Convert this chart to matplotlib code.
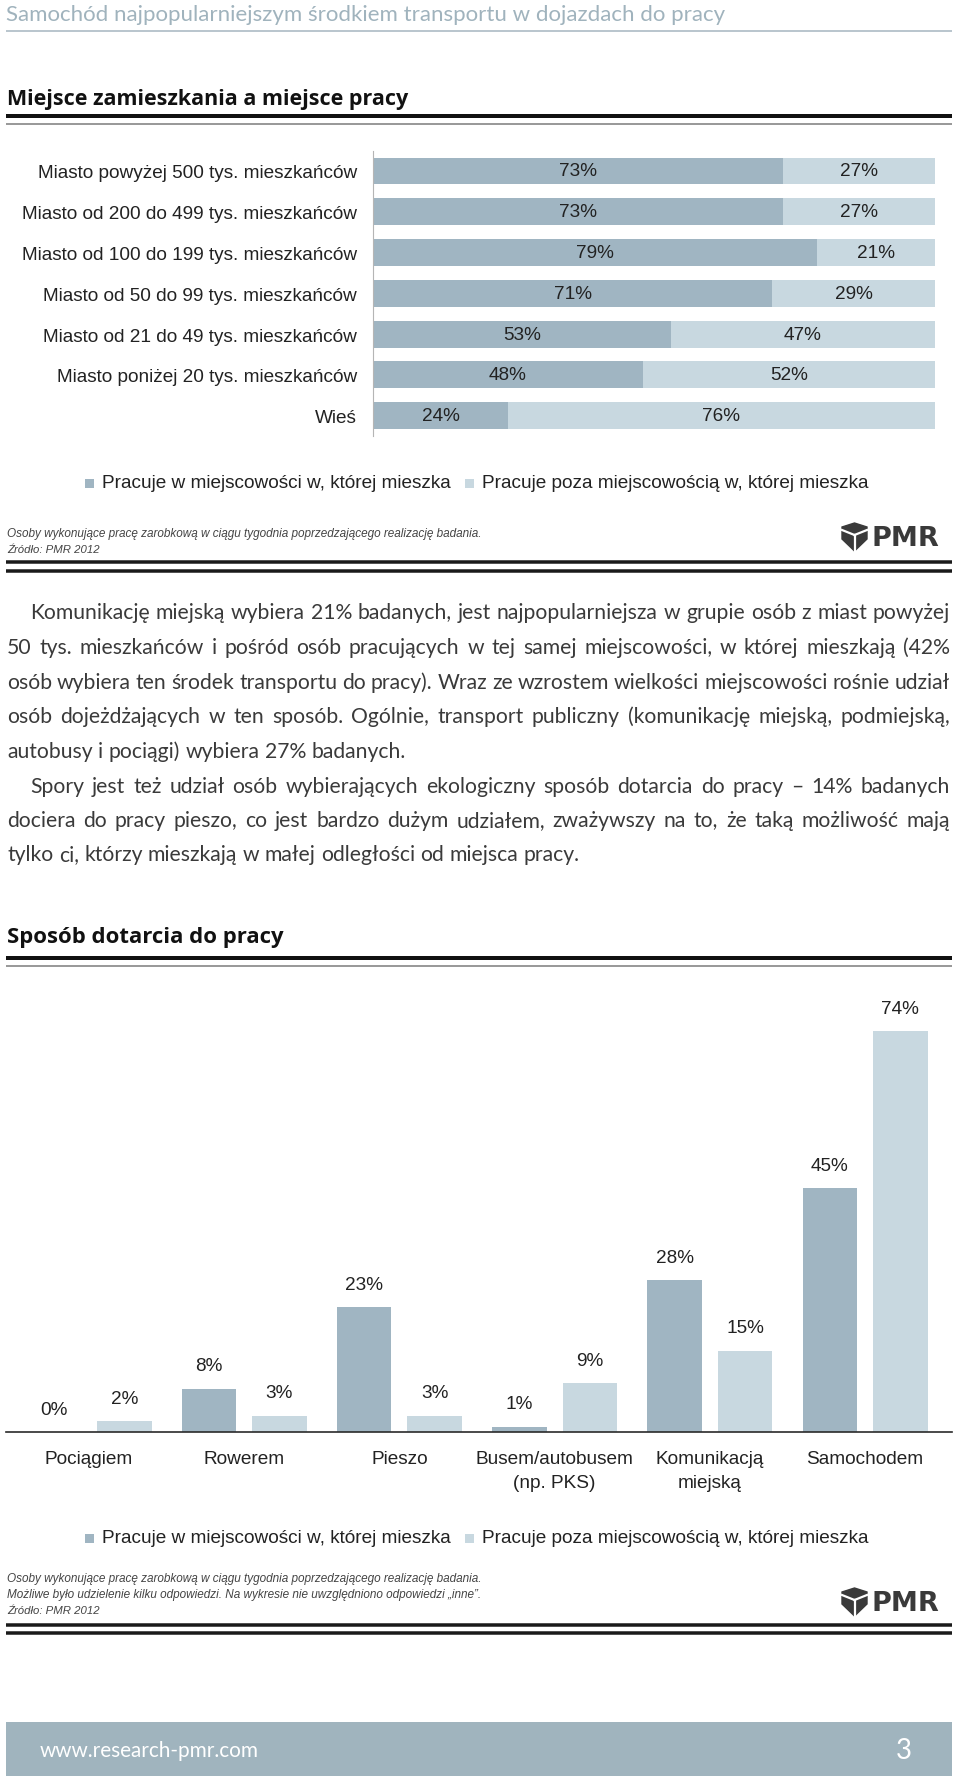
import numpy as np
import matplotlib
matplotlib.use("Agg")
import matplotlib.pyplot as plt
from matplotlib import font_manager
from matplotlib.patches import Rectangle, Polygon

# Dane - wykres 1 (miejsce zamieszkania a miejsce pracy)
miejscowosci = [
    "Miasto powyżej 500 tys. mieszkańców",
    "Miasto od 200 do 499 tys. mieszkańców",
    "Miasto od 100 do 199 tys. mieszkańców",
    "Miasto od 50 do 99 tys. mieszkańców",
    "Miasto od 21 do 49 tys. mieszkańców",
    "Miasto poniżej 20 tys. mieszkańców",
    "Wieś",
]
pracuje_w = [73, 73, 79, 71, 53, 48, 24]
pracuje_poza = [27, 27, 21, 29, 47, 52, 76]

# Dane - wykres 2 (sposób dotarcia do pracy)
sposoby = ["Pociągiem", "Rowerem", "Pieszo", "Busem/autobusem\n(np. PKS)",
           "Komunikacją\nmiejską", "Samochodem"]
sposob_w = [0, 8, 23, 1, 28, 45]
sposob_poza = [2, 3, 3, 9, 15, 74]

serie = ["Pracuje w miejscowości w, której mieszka",
         "Pracuje poza miejscowością w, której mieszka"]

akapity = [
    ["Komunikację miejską wybiera 21% badanych, jest najpopularniejsza w grupie osób z miast powyżej",
     "50 tys. mieszkańców i pośród osób pracujących w tej samej miejscowości, w której mieszkają (42%",
     "osób wybiera ten środek transportu do pracy). Wraz ze wzrostem wielkości miejscowości rośnie udział",
     "osób dojeżdżających w ten sposób. Ogólnie, transport publiczny (komunikację miejską, podmiejską,",
     "autobusy i pociągi) wybiera 27% badanych."],
    ["Spory jest też udział osób wybierających ekologiczny sposób dotarcia do pracy – 14% badanych",
     "dociera do pracy pieszo, co jest bardzo dużym udziałem, zważywszy na to, że taką możliwość mają",
     "tylko ci, którzy mieszkają w małej odległości od miejsca pracy."],
]

C_DARK = "#a0b5c2"
C_LIGHT = "#c8d8e0"
C_TXT = "#222222"
FS = 13.7


def pick(*names):
    for n in names:
        try:
            font_manager.findfont(font_manager.FontProperties(family=n),
                                  fallback_to_default=False)
            return n
        except ValueError:
            pass
    return "DejaVu Sans"


ARIAL = pick("Liberation Sans", "Arial")
NARROW = pick("Liberation Sans Narrow", "Liberation Sans")
BODY = pick("Lato", "Open Sans")
HEAD = pick("Open Sans", "Noto Sans")

W, H = 960, 1781
fig = plt.figure(figsize=(W / 100, H / 100), dpi=100)
bg = fig.add_axes([0, 0, 1, 1])
bg.set_xlim(0, W)
bg.set_ylim(H, 0)
bg.axis("off")
renderer = fig.canvas.get_renderer()


def px_axes(x0, y0, x1, y1):
    return fig.add_axes([x0 / W, 1 - y1 / H, (x1 - x0) / W, (y1 - y0) / H])


def hline(y, lw_px, color, x0=6, x1=952):
    bg.plot([x0, x1], [y, y], color=color, lw=lw_px * 0.72, solid_capstyle="butt")


def fit_text(x, y, s, width, size=12, **kw):
    # dopasowanie rozmiaru czcionki do szerokości z oryginału
    t = bg.text(x, y, s, fontsize=size, va="center", **kw)
    w = t.get_window_extent(renderer).width
    t.set_fontsize(size * width / w)
    return t


def justify(line, y, x0, x1, last, **kw):
    words = line.split(" ")
    texts = [bg.text(0, y, w, va="center", ha="left", **kw) for w in words]
    widths = [t.get_window_extent(renderer).width for t in texts]
    if last or len(words) < 2:
        a = bg.text(0, 0, "a a", **kw)
        b = bg.text(0, 0, "aa", **kw)
        gap = a.get_window_extent(renderer).width - b.get_window_extent(renderer).width
        a.remove()
        b.remove()
    else:
        gap = (x1 - x0 - sum(widths)) / (len(words) - 1)
    x = x0
    for t, w in zip(texts, widths):
        t.set_x(x)
        x += w + gap


def logo(x, yc):
    pts = [(x, yc - 10), (x + 12.5, yc - 14), (x + 25, yc - 10),
           (x + 25, yc + 2), (x + 12.5, yc + 14), (x, yc + 2)]
    bg.add_patch(Polygon(pts, closed=True, color="#3a3a3a"))
    cx, cy = x + 12.5, yc - 2
    for ex, ey in [(x, yc - 7), (x + 25, yc - 7), (x + 12.5, yc + 14)]:
        bg.plot([cx, ex], [cy, ey], color="white", lw=1.6)
    bg.text(x + 30, yc + 1, "PMR", fontsize=19.5, fontweight="bold",
            family="DejaVu Sans", color="#3a3a3a", va="center", ha="left")


def legenda(yc):
    for sx, tx, col, s in [(85, 102, C_DARK, serie[0]), (465, 482, C_LIGHT, serie[1])]:
        bg.add_patch(Rectangle((sx, yc - 4.5), 9, 9, color=col, lw=0))
        bg.text(tx, yc, s, fontsize=FS, family=ARIAL, color=C_TXT, va="center")


# Nagłówek strony
fit_text(6, 15, "Samochód najpopularniejszym środkiem transportu w dojazdach do pracy",
         713, family=BODY, color="#a0b3bd")
hline(32, 1.6, "#a9b9c2")

# Sekcja 1
fit_text(7, 100, "Miejsce zamieszkania a miejsce pracy", 402, family=HEAD,
         fontweight="bold", color="#111111")
hline(117, 4, "#111111")
hline(125, 2, "#9a9a9a")

ax1 = px_axes(373, 151.6, 935, 437)
yy = np.arange(len(miejscowosci))
ax1.barh(yy, pracuje_w, height=0.66, color=C_DARK)
ax1.barh(yy, pracuje_poza, left=pracuje_w, height=0.66, color=C_LIGHT)
ax1.set_xlim(0, 100)
ax1.set_ylim(len(miejscowosci) - 0.5, -0.5)
for s in ["top", "right", "bottom"]:
    ax1.spines[s].set_visible(False)
ax1.spines["left"].set_color("#b5b5b5")
ax1.spines["left"].set_linewidth(0.8)
ax1.set_xticks([])
ax1.set_yticks(yy, miejscowosci)
ax1.tick_params(axis="y", length=0, pad=11.5, labelsize=FS, labelcolor=C_TXT)
for lbl in ax1.get_yticklabels():
    lbl.set_family(ARIAL)
for i, (a, b) in enumerate(zip(pracuje_w, pracuje_poza)):
    ax1.text(a / 2, i, f"{a}%", ha="center", va="center", fontsize=FS,
             family=ARIAL, color=C_TXT)
    ax1.text(a + b / 2, i, f"{b}%", ha="center", va="center", fontsize=FS,
             family=ARIAL, color=C_TXT)

legenda(484)
fit_text(7, 534, "Osoby wykonujące pracę zarobkową w ciągu tygodnia poprzedzającego realizację badania.",
         479, family=NARROW, style="italic", color="#444444")
fit_text(7, 550, "Źródło: PMR 2012", 92, family=NARROW, style="italic", color="#444444")
logo(842, 538)
hline(563, 3.5, "#1a1a1a")
hline(572, 3.5, "#1a1a1a")

# Tekst
probe = bg.text(0, 0, akapity[0][-1], fontsize=13, family=BODY)
body_size = 13 * 397 / probe.get_window_extent(renderer).width
probe.remove()
ys = [613, 648, 683, 717, 752, 787, 821, 855]
k = 0
for par in akapity:
    for j, line in enumerate(par):
        x0 = 30 if j == 0 else 7
        justify(line, ys[k], x0, 950, j == len(par) - 1, fontsize=body_size,
                family=BODY, color="#3a3a3a")
        k += 1

# Sekcja 2
fit_text(7, 938, "Sposób dotarcia do pracy", 275, family=HEAD,
         fontweight="bold", color="#111111")
hline(959, 4, "#111111")
hline(967, 2, "#9a9a9a")

PX_PER = 5.42
ax2 = px_axes(6, 990, 952, 1433)
xx = np.arange(len(sposoby))
off, bw = 0.227, 0.351
b1 = ax2.bar(xx - off, sposob_w, width=bw, color=C_DARK)
b2 = ax2.bar(xx + off, sposob_poza, width=bw, color=C_LIGHT)
ax2.set_xlim(-0.535, 5.56)
ax2.set_ylim(0, (1433 - 990) / PX_PER)
for s in ["top", "right", "left"]:
    ax2.spines[s].set_visible(False)
ax2.spines["bottom"].set_color("#2a2a2a")
ax2.spines["bottom"].set_linewidth(1.2)
ax2.set_yticks([])
ax2.set_xticks(xx, sposoby)
ax2.tick_params(axis="x", length=0, pad=13, labelsize=FS, labelcolor=C_TXT)
for lbl in ax2.get_xticklabels():
    lbl.set_family(ARIAL)
    lbl.set_linespacing(1.55)
for bars, vals in [(b1, sposob_w), (b2, sposob_poza)]:
    for r, v in zip(bars, vals):
        ax2.annotate(f"{v}%", (r.get_x() + r.get_width() / 2, v), xytext=(0, 16.5),
                     textcoords="offset points", ha="center", va="center",
                     fontsize=FS, family=ARIAL, color=C_TXT)

legenda(1539)
fn = ["Osoby wykonujące pracę zarobkową w ciągu tygodnia poprzedzającego realizację badania.",
      "Możliwe było udzielenie kilku odpowiedzi. Na wykresie nie uwzględniono odpowiedzi „inne”.",
      "Źródło: PMR 2012"]
for s, y, w in zip(fn, [1579, 1595, 1611], [479, 478, 92]):
    fit_text(7, y, s, w, family=NARROW, style="italic", color="#444444")
logo(842, 1603)
hline(1626, 3.5, "#1a1a1a")
hline(1634, 3.5, "#1a1a1a")

# Stopka
bg.add_patch(Rectangle((6, 1723), 946, 54, color="#a0b4be", lw=0))
fit_text(40, 1751, "www.research-pmr.com", 218, family=BODY, color="white")
bg.text(904, 1751, "3", fontsize=20, family=BODY, color="white", ha="center", va="center")

fig.savefig("out.png", dpi=100)
